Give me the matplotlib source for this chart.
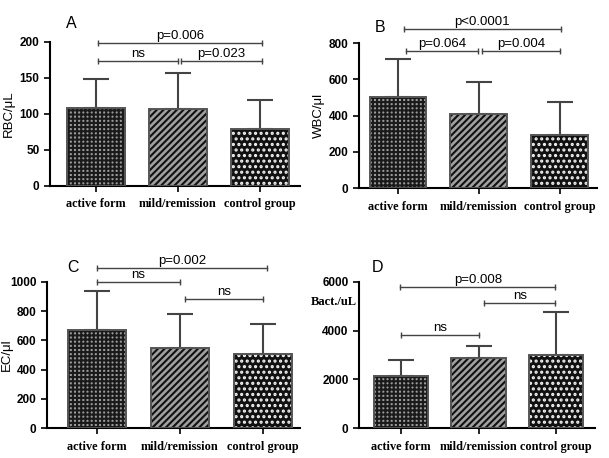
import numpy as np
import matplotlib.pyplot as plt

plt.rcParams['hatch.linewidth'] = 1.5

groups = ['active form', 'mild/remission', 'control group']

# mean and SD
rbc_mean = [108, 107, 79]
rbc_sd = [41, 50, 40]
wbc_mean = [504, 407, 291]
wbc_sd = [206, 178, 184]
ec_mean = [671, 550, 508]
ec_sd = [265, 233, 204]
bact_mean = [2130, 2860, 2995]
bact_sd = [650, 520, 1780]

# brackets: (x from, x to, height, text)
rbc_pairs = [(0.03, 2.03, 199, 'p=0.006'), (0.03, 1.0, 174, 'ns'), (1.04, 2.03, 174, 'p=0.023')]
wbc_pairs = [(0.07, 2.01, 877, 'p<0.0001'), (0.1, 0.99, 756, 'p=0.064'), (1.04, 2.0, 756, 'p=0.004')]
ec_pairs = [(0.0, 2.05, 1096, 'p=0.002'), (0.0, 1.0, 1000, 'ns'), (1.06, 2.0, 884, 'ns')]
bact_pairs = [(-0.01, 1.99, 5795, 'p=0.008'), (1.07, 1.99, 5137, 'ns'), (0.0, 1.0, 3822, 'ns')]

faces = ['#9a9a9a', '#a0a0a0', '#111111']
hatch_cols = ['#1a1a1a', '#111111', '#f4f4f4']
hatches = ['++++', '/////', '...']


def panel(fig, rect, mean, sd, pairs, ymax, yticks, ylabel, letter, xlim, letter_pos):
    ax = fig.add_axes(rect)
    x = np.arange(len(groups))
    for i in range(len(groups)):
        ax.bar(x[i], mean[i], 0.7, color=faces[i], edgecolor=hatch_cols[i],
               hatch=hatches[i], linewidth=0, zorder=2)
        ax.bar(x[i], mean[i], 0.7, fill=False, edgecolor='#555555', linewidth=1.4, zorder=3)
    ax.errorbar(x, mean, yerr=[np.zeros(3), sd], fmt='none', ecolor='#444444',
                elinewidth=1.5, capsize=9.5, capthick=1.5, zorder=1)
    for x1, x2, y, t in pairs:
        ax.plot([x1, x2], [y, y], color='#444444', lw=1, marker='|', ms=5,
                mew=1, clip_on=False)
        ax.annotate(t, ((x1 + x2) / 2, y), xytext=(0, 0.5), textcoords='offset points',
                    ha='center', va='bottom', fontsize=9.5, family='Liberation Sans',
                    annotation_clip=False)
    ax.set_xlim(*xlim)
    ax.set_ylim(0, ymax)
    ax.set_yticks(yticks)
    ax.set_yticklabels([str(v) for v in yticks], fontsize=8.5, fontweight='bold',
                       family='Liberation Sans')
    ax.set_xticks(x)
    ax.set_xticklabels(groups, fontsize=8.8, fontweight='bold', family='Liberation Serif')
    ax.tick_params(axis='both', length=4, width=1.2, color='black')
    ax.tick_params(axis='x', pad=5)
    for s in ['top', 'right']:
        ax.spines[s].set_visible(False)
    for s in ['left', 'bottom']:
        ax.spines[s].set_linewidth(1.5)
    if ylabel:
        ax.set_ylabel(ylabel, fontsize=9.5, family='Liberation Sans')
    ax.text(letter_pos[0], letter_pos[1], letter, transform=ax.transAxes,
            fontsize=11.5, family='Liberation Sans', ha='left', va='center')
    return ax


fig = plt.figure(figsize=(6.09, 4.58), dpi=100)

ax_a = panel(fig, [0.0821, 0.5939, 0.4105, 0.3144], rbc_mean, rbc_sd, rbc_pairs,
             200, [0, 50, 100, 150, 200], 'RBC/μL', 'A', (-0.56, 2.49), (0.064, 1.125))
ax_a.yaxis.set_label_coords(-0.14, 0.5)

ax_b = panel(fig, [0.5895, 0.5895, 0.3908, 0.3166], wbc_mean, wbc_sd, wbc_pairs,
             800, [0, 200, 400, 600, 800], 'WBC/μl', 'B', (-0.48, 2.46), (0.067, 1.11))
ax_b.yaxis.set_label_coords(-0.143, 0.5)

ax_c = panel(fig, [0.0772, 0.0655, 0.4154, 0.3188], ec_mean, ec_sd, ec_pairs,
             1000, [0, 200, 400, 600, 800, 1000], 'EC/μl', 'C', (-0.6, 2.45), (0.079, 1.10))
ax_c.yaxis.set_label_coords(-0.134, 0.5)

ax_d = panel(fig, [0.5895, 0.0655, 0.3875, 0.3188], bact_mean, bact_sd, bact_pairs,
             6000, [0, 2000, 4000, 6000], None, 'D', (-0.54, 2.5), (0.055, 1.10))
ax_d.text(-0.106, 0.863, 'Bact./uL', transform=ax_d.transAxes, ha='center', va='center',
          fontsize=9, fontweight='bold', family='Liberation Serif')

fig.savefig('out.png', dpi=100)
